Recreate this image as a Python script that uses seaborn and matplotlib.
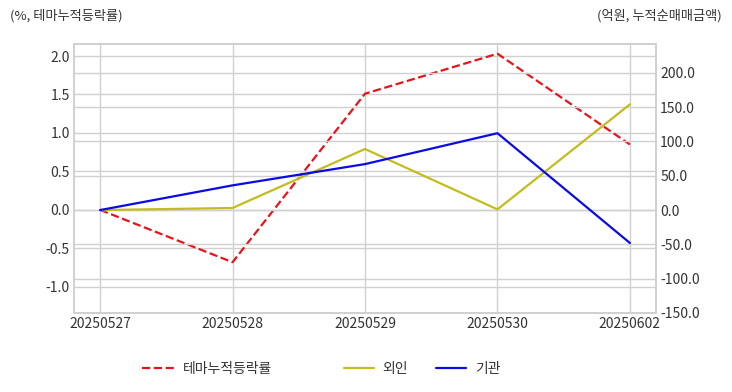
import matplotlib
matplotlib.use("Agg")
import matplotlib.pyplot as plt
import seaborn as sns
import pandas as pd

dates = ["20250527", "20250528", "20250529", "20250530", "20250602"]
theme_rate = [0.0, -0.68, 1.51, 2.03, 0.85]
foreign = [0.0, 3.0, 89.0, 1.0, 154.0]
institution = [0.0, 36.0, 67.0, 112.0, -48.0]
left_ticks = [-1.0, -0.5, 0.0, 0.5, 1.0, 1.5, 2.0]
right_ticks = [-150, -100, -50, 0, 50, 100, 150, 200]

sns.set_theme(style="whitegrid")
plt.rcParams['font.family'] = ['Noto Sans CJK KR', 'DejaVu Sans']

df = pd.DataFrame({"date": dates, "theme": theme_rate, "foreign": foreign, "inst": institution})
df["x"] = range(len(dates))

fig = plt.figure(figsize=(7.32, 3.92), dpi=100)
ax = fig.add_axes([74/732, 1-313/392, (656-74)/732, (313-44)/392])
ax2 = ax.twinx()

sns.lineplot(data=df, x="x", y="theme", ax=ax, color="#e8141b", linestyle="--", linewidth=1.6, label="테마누적등락률", legend=False)
sns.lineplot(data=df, x="x", y="foreign", ax=ax2, color="#c2bc1e", linewidth=1.6, label="외인", legend=False)
sns.lineplot(data=df, x="x", y="inst", ax=ax2, color="#0a0ae6", linewidth=1.6, label="기관", legend=False)

ax.set_xlim(-0.197, 4.197)
ax.set_ylim(-1.34, 2.156)
ax2.set_ylim(-150, 242)
ax.set_xticks(range(len(dates)))
ax.set_xticklabels(dates)
ax.set_yticks(left_ticks)
ax.set_yticklabels([f"{v:.1f}" for v in left_ticks])
ax2.set_yticks(right_ticks)
ax2.set_yticklabels([f"{v:.1f}" for v in right_ticks])
ax.set_xlabel("")
ax.set_ylabel("")
ax2.set_ylabel("")

for a in (ax, ax2):
    a.tick_params(axis="both", labelsize=10, colors="#333333", length=0, pad=3)
    a.grid(True, color="#d0d0d0", linewidth=1.0)
    for s in a.spines.values():
        s.set_color("#d0d0d0")
        s.set_linewidth(1.2)
ax2.grid(True, axis="y", color="#d0d0d0", linewidth=1.0)
ax2.grid(False, axis="x")

fig.text(10/732, 1-16/392, "(%, 테마누적등락률)", fontsize=9.5, color="#333333", va="center", ha="left")
fig.text(722/732, 1-16/392, "(억원, 누적순매매금액)", fontsize=9.5, color="#333333", va="center", ha="right")

h1, l1 = ax.get_legend_handles_labels()
h2, l2 = ax2.get_legend_handles_labels()
leg1 = fig.legend(h1, l1, loc="center", bbox_to_anchor=(207/732, 1-369/392), frameon=False, fontsize=10,
                  handlelength=2.4, handletextpad=0.5)
leg2 = fig.legend(h2, l2, loc="center", bbox_to_anchor=(422/732, 1-369/392), frameon=False, fontsize=10, ncol=2,
                  handlelength=2.2, handletextpad=0.6, columnspacing=2.0)
for t in list(leg1.get_texts()) + list(leg2.get_texts()):
    t.set_color("#333333")

fig.savefig("out.png", dpi=100)
